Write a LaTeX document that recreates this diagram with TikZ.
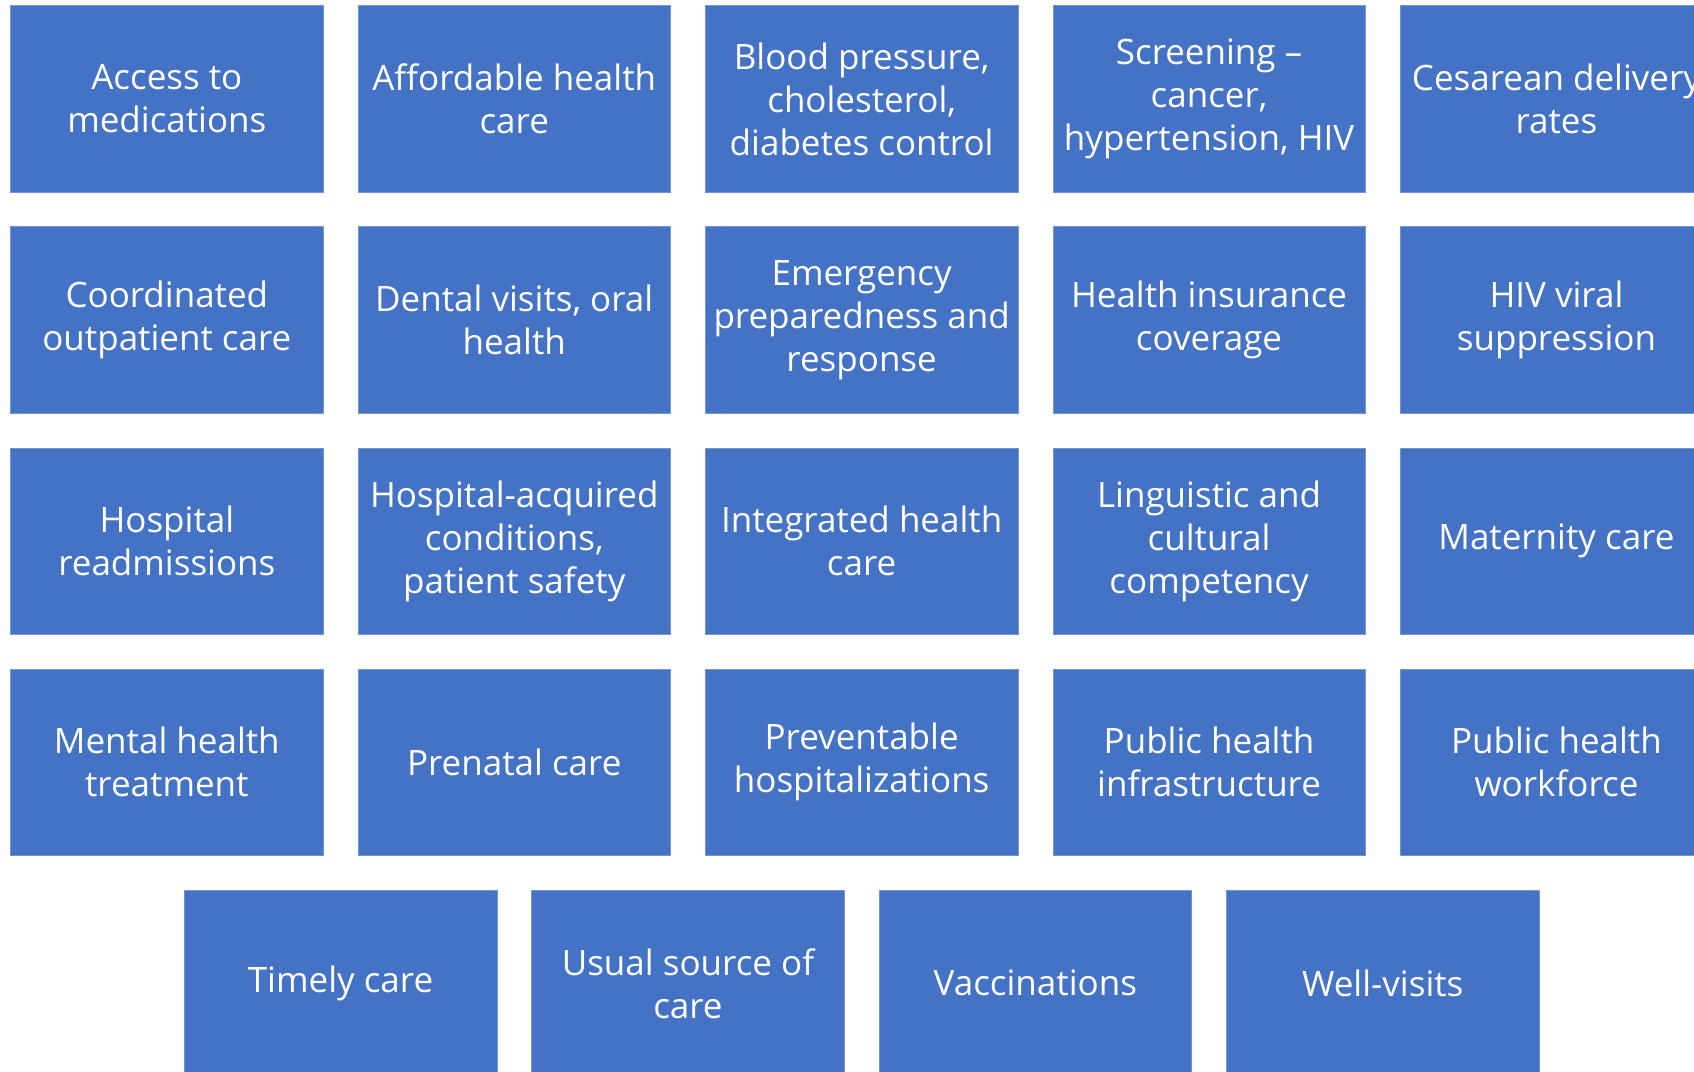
\documentclass[tikz,border=0pt]{standalone}
\usepackage{fontspec}
\setmainfont{Open Sans}
\definecolor{boxblue}{RGB}{68,114,196}
\tikzset{
  item/.style={rectangle, fill=boxblue, draw=boxblue!75!white, line width=0.6pt,
    minimum width=312.5pt, minimum height=186.5pt, inner sep=0pt,
    align=center, text=white, font=\fontsize{35}{43}\selectfont},
}
\begin{document}
\begin{tikzpicture}[x=1pt,y=-1pt]
\clip (0,0) rectangle (1694,1071);
\fill[white] (0,0) rectangle (1694,1071);
% row 1
\node[item] (access) at (166.85,98.9) {Access to\\medications};
\node[item] (afford) at (514.25,98.9) {Affordable health\\care};
\node[item] (blood) at (861.65,98.9) {Blood pressure,\\cholesterol,\\diabetes control};
\node[item] (screen) at (1209.05,98.9) {Screening –\\cancer,\\hypertension, HIV};
\node[item] (cesar) at (1556.45,98.9) {Cesarean delivery\\rates};
% row 2
\node[item] (coord) at (166.85,320) {Coordinated\\outpatient care};
\node[item] (dental) at (514.25,320) {Dental visits, oral\\health};
\node[item] (emerg) at (861.65,320) {Emergency\\preparedness and\\response};
\node[item] (insur) at (1209.05,320) {Health insurance\\coverage};
\node[item] (hiv) at (1556.45,320) {HIV viral\\suppression};
% row 3
\node[item] (readm) at (166.85,541.1) {Hospital\\readmissions};
\node[item] (acquired) at (514.25,541.1) {Hospital-acquired\\conditions,\\patient safety};
\node[item] (integ) at (861.65,541.1) {Integrated health\\care};
\node[item] (ling) at (1209.05,541.1) {Linguistic and\\cultural\\competency};
\node[item] (matern) at (1556.45,541.1) {Maternity care};
% row 4
\node[item] (mental) at (166.85,762.2) {Mental health\\treatment};
\node[item] (prenat) at (514.25,762.2) {Prenatal care};
\node[item] (prevent) at (861.65,762.2) {Preventable\\hospitalizations};
\node[item] (infra) at (1209.05,762.2) {Public health\\infrastructure};
\node[item] (work) at (1556.45,762.2) {Public health\\workforce};
% row 5
\node[item] (timely) at (340.55,983.3) {Timely care};
\node[item] (usual) at (687.95,983.3) {Usual source of\\care};
\node[item] (vacc) at (1035.35,983.3) {Vaccinations};
\node[item] (well) at (1382.75,983.3) {Well-visits};
\end{tikzpicture}
\end{document}
